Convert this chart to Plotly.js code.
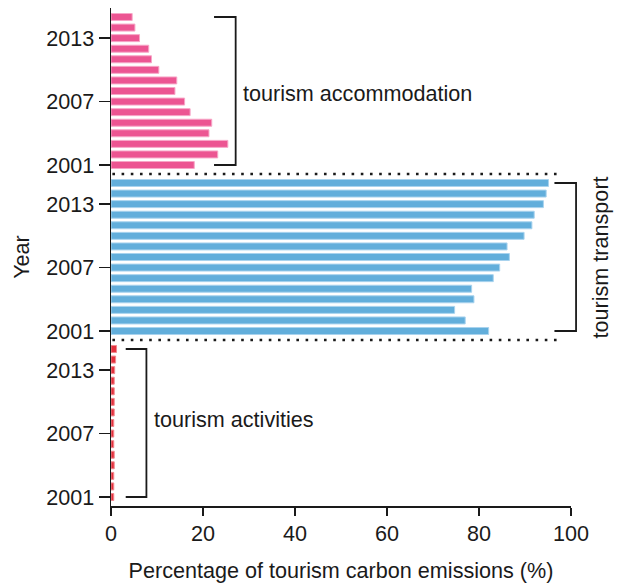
<!DOCTYPE html>
<html>
<head>
<meta charset="utf-8">
<script src="https://cdn.plot.ly/plotly-3.0.1.min.js"></script>
<style>html,body{margin:0;padding:0;background:#fff;}#chart{width:617px;height:583px;}</style>
</head>
<body>
<div id="chart"></div>
<script>
// ---- data ----
var years = [2001, 2002, 2003, 2004, 2005, 2006, 2007, 2008, 2009, 2010, 2011, 2012, 2013, 2014, 2015];
var accommodation = [18.1, 23.2, 25.4, 21.3, 21.9, 17.2, 16.0, 13.9, 14.3, 10.4, 8.8, 8.2, 6.2, 5.2, 4.6];
var transport = [82.1, 77.0, 74.7, 78.9, 78.4, 83.1, 84.5, 86.6, 86.1, 89.8, 91.5, 92.0, 94.0, 94.6, 95.1];
var activities = [0.6, 0.6, 0.6, 0.7, 0.7, 0.6, 0.6, 0.6, 0.7, 0.7, 0.7, 0.7, 0.8, 1.0, 1.2];
var yTicks = [2001, 2007, 2013];
var xTicks = [0, 20, 40, 60, 80, 100];
var sectorLabels = ['tourism accommodation', 'tourism transport', 'tourism activities'];

// ---- styling ----
var FONT = 'Liberation Sans, Arial, Helvetica, sans-serif';
var FS = 21.6;
var INK = '#1a1a1a';
var yRange = [2000.15, 2015.85];
var xRange = [0, 100];
var domains = [[2/3, 1], [1/3, 2/3], [0, 1/3]];

function px(v) { return (v - xRange[0]) / (xRange[1] - xRange[0]); }
function py(panel, yr) {
  var d = domains[panel];
  return d[0] + (yr - yRange[0]) / (yRange[1] - yRange[0]) * (d[1] - d[0]);
}

var traces = [
  {type: 'bar', orientation: 'h', y: years, x: accommodation, xaxis: 'x', yaxis: 'y',
   marker: {color: '#EC5592', line: {color: '#F7A6C7', width: 1}}, hoverinfo: 'x+y'},
  {type: 'bar', orientation: 'h', y: years, x: transport, xaxis: 'x', yaxis: 'y2',
   marker: {color: '#62AEDB', line: {color: '#A9D3EE', width: 1}}, hoverinfo: 'x+y'},
  {type: 'bar', orientation: 'h', y: years, x: activities, xaxis: 'x', yaxis: 'y3',
   marker: {color: '#E3313D', line: {color: '#F08A90', width: 1}}, hoverinfo: 'x+y'}
];

function yax(i, withTitle) {
  var a = {
    domain: domains[i], anchor: 'x', range: yRange, tickvals: yTicks,
    ticks: 'outside', ticklen: 11, tickwidth: 1.5, tickcolor: INK,
    showline: true, linecolor: INK, linewidth: 1.5,
    showgrid: false, zeroline: false,
    tickfont: {family: FONT, size: FS, color: INK}
  };
  if (withTitle) a.title = {text: 'Year', font: {family: FONT, size: FS, color: INK}, standoff: 10};
  return a;
}

var shapes = [];
// dotted separators between panels
[2/3, 1/3].forEach(function (yy) {
  shapes.push({type: 'line', xref: 'paper', yref: 'paper', x0: px(0.3), x1: px(97.4), y0: yy, y1: yy,
    line: {color: INK, width: 2.6, dash: '2.6px,6.6px'}});
});
// brackets
var brackets = [
  {panel: 0, x0: 22.4, x1: 27.1},
  {panel: 1, x0: 96.4, x1: 101.1},
  {panel: 2, x0: 3.2, x1: 7.7}
];
brackets.forEach(function (b) {
  var yt = py(b.panel, years[years.length - 1]), yb = py(b.panel, years[0]);
  shapes.push({type: 'path', xref: 'paper', yref: 'paper',
    path: 'M' + px(b.x0) + ',' + yt + ' H' + px(b.x1) + ' V' + yb + ' H' + px(b.x0),
    line: {color: INK, width: 1.8}});
});

var annotations = [
  {xref: 'paper', yref: 'paper', x: px(28.3), y: py(0, 2007.8), text: sectorLabels[0],
   showarrow: false, xanchor: 'left', yanchor: 'middle', font: {family: FONT, size: FS, color: INK}},
  {xref: 'paper', yref: 'paper', x: px(106.4), y: py(1, 2008), text: sectorLabels[1], textangle: -90,
   showarrow: false, xanchor: 'center', yanchor: 'middle', font: {family: FONT, size: FS, color: INK}},
  {xref: 'paper', yref: 'paper', x: px(9.0), y: py(2, 2008.3), text: sectorLabels[2],
   showarrow: false, xanchor: 'left', yanchor: 'middle', font: {family: FONT, size: FS, color: INK}}
];

var layout = {
  width: 617, height: 583,
  margin: {l: 111.3, r: 46.3, t: 7.5, b: 77, pad: 0},
  paper_bgcolor: '#fff', plot_bgcolor: '#fff',
  showlegend: false, bargap: 0.34,
  xaxis: {
    domain: [0, 1], anchor: 'y3', range: xRange, tickvals: xTicks,
    ticks: 'outside', ticklen: 8, tickwidth: 1.5, tickcolor: INK,
    showline: true, linecolor: INK, linewidth: 1.5,
    showgrid: false, zeroline: false,
    tickfont: {family: FONT, size: FS, color: INK},
    title: {text: 'Percentage of tourism carbon emissions (%)', font: {family: FONT, size: FS, color: INK}, standoff: 17}
  },
  yaxis: yax(0, false),
  yaxis2: yax(1, true),
  yaxis3: yax(2, false),
  shapes: shapes,
  annotations: annotations
};

Plotly.newPlot('chart', traces, layout, {staticPlot: true, displayModeBar: false});
</script>
</body>
</html>
